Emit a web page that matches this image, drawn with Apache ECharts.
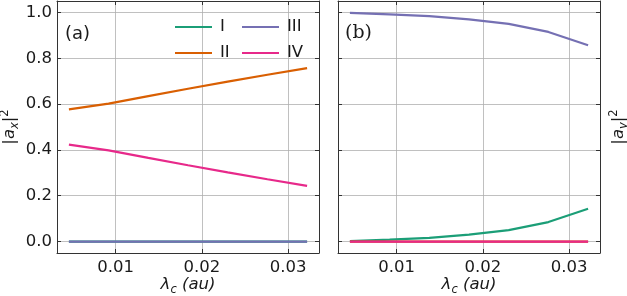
<!DOCTYPE html>
<html lang="en">

<head>
    <meta charset="UTF-8">
    <title>amplitudes</title>
    <script src="https://cdn.jsdelivr.net/npm/echarts@6/dist/echarts.min.js"></script>
</head>

<body style="margin:0;background-color:#ffffff;">
    <div id="main" style="position:absolute;left:0;top:0;width:627px;height:296px"></div>

    <script>
        // lambda_c values (au)
        var lam = [0.0046, 0.0092, 0.0138, 0.0184, 0.0230, 0.0276, 0.0322];

        // panel (a): |a_x|^2
        var axI = [0, 0, 0, 0, 0, 0, 0];
        var axII = [0.577, 0.602, 0.635, 0.667, 0.698, 0.728, 0.757];
        var axIII = [0, 0, 0, 0, 0, 0, 0];
        var axIV = [0.423, 0.398, 0.365, 0.333, 0.302, 0.272, 0.243];

        // panel (b): |a_y|^2
        var ayI = [0.002, 0.008, 0.016, 0.030, 0.050, 0.085, 0.143];
        var ayII = [0, 0, 0, 0, 0, 0, 0];
        var ayIII = [0.998, 0.992, 0.984, 0.970, 0.950, 0.915, 0.857];
        var ayIV = [0, 0, 0, 0, 0, 0, 0];

        var names = ['I', 'II', 'III', 'IV'];
        var colors = ['#1b9e77', '#d95f02', '#7570b3', '#e7298a'];
        var xTicks = [0.01, 0.02, 0.03];
        var yTicks = [0, 0.2, 0.4, 0.6, 0.8, 1.0];

        var font = 'DejaVu Sans';
        var frame = '#333333';

        function pairs(ys) {
            return lam.map(function(x, i) { return [x, ys[i]]; });
        }

        function xAxis(grid, pos, showLabel, name) {
            return {
                type: 'value', gridIndex: grid, position: pos,
                min: 0.00322, max: 0.03358,
                name: name || '', nameLocation: 'middle', nameGap: 21, nameMoveOverlap: false,
                nameTextStyle: {
                    rich: {
                        m: { fontFamily: font, fontStyle: 'italic', fontSize: 16.5, lineHeight: 22, color: '#1a1a1a' },
                        s: { fontFamily: font, fontStyle: 'italic', fontSize: 11.5, lineHeight: 12, verticalAlign: 'bottom', color: '#1a1a1a' }
                    }
                },
                axisLine: { show: true, onZero: false, lineStyle: { color: frame, width: 1 } },
                axisTick: { show: true, inside: true, length: 4, customValues: xTicks, lineStyle: { color: frame } },
                axisLabel: {
                    show: showLabel, customValues: xTicks, margin: 6,
                    fontFamily: font, fontSize: 16.5, color: '#1a1a1a',
                    formatter: function(v) { return v.toFixed(2); }
                },
                splitLine: { show: pos === 'bottom', lineStyle: { color: '#b0b0b0', width: 0.8 } }
            };
        }

        function yAxis(grid, pos, showLabel, name, gap) {
            return {
                type: 'value', gridIndex: grid, position: pos,
                min: -0.05, max: 1.05,
                name: name || '', nameLocation: 'middle', nameRotate: 90, nameGap: gap || 0, nameMoveOverlap: false,
                nameTextStyle: {
                    rich: {
                        m: { fontFamily: font, fontSize: 16.5, lineHeight: 22, color: '#1a1a1a' },
                        i: { fontFamily: font, fontStyle: 'italic', fontSize: 16.5, lineHeight: 22, color: '#1a1a1a' },
                        s: { fontFamily: font, fontStyle: 'italic', fontSize: 11.5, lineHeight: 12, verticalAlign: 'bottom', color: '#1a1a1a' },
                        p: { fontFamily: font, fontSize: 11.5, lineHeight: 12, verticalAlign: 'top', color: '#1a1a1a' }
                    }
                },
                axisLine: { show: true, onZero: false, lineStyle: { color: frame, width: 1 } },
                axisTick: { show: true, inside: true, length: 4, customValues: yTicks, lineStyle: { color: frame } },
                axisLabel: {
                    show: showLabel, customValues: yTicks, margin: 5,
                    fontFamily: font, fontSize: 16.5, color: '#1a1a1a',
                    formatter: function(v) { return v.toFixed(1); }
                },
                splitLine: { show: pos === 'left', lineStyle: { color: '#b0b0b0', width: 0.8 } }
            };
        }

        var xName = '{m|λ}{s|c}{m| (au)}';

        var series = [];
        [[axI, axII, axIII, axIV], [ayI, ayII, ayIII, ayIV]].forEach(function(set, g) {
            set.forEach(function(ys, k) {
                series.push({
                    name: names[k], type: 'line',
                    xAxisIndex: g * 2, yAxisIndex: g * 2,
                    data: pairs(ys),
                    showSymbol: false, symbol: 'none',
                    lineStyle: { color: colors[k], width: 2.2 },
                    itemStyle: { color: colors[k] },
                    z: 3 + k
                });
            });
        });

        function legend(left, data) {
            return {
                left: left, top: 13, orient: 'vertical',
                data: data, icon: 'rect', itemWidth: 37, itemHeight: 2, itemGap: 8,
                textStyle: { fontFamily: font, fontSize: 16.5, lineHeight: 18, color: '#1a1a1a', padding: [0, 0, 0, 3] }
            };
        }

        var chart = echarts.init(document.getElementById('main'));
        chart.setOption({
            animation: false,
            grid: [
                { left: 57, right: 308, top: 1, bottom: 43, outerBoundsMode: 'none' },
                { left: 338, right: 27, top: 1, bottom: 43, outerBoundsMode: 'none' }
            ],
            legend: [legend(170, ['I', 'II']), legend(237, ['III', 'IV'])],
            xAxis: [
                xAxis(0, 'bottom', true, xName), xAxis(0, 'top', false),
                xAxis(1, 'bottom', true, xName), xAxis(1, 'top', false)
            ],
            yAxis: [
                yAxis(0, 'left', true, '{m||}{i|a}{s|x}{m||}{p|2}', 36), yAxis(0, 'right', false),
                yAxis(1, 'left', false), yAxis(1, 'right', false, '{m||}{i|a}{s|y}{m||}{p|2}', 8)
            ],
            graphic: [
                { type: 'text', left: 65, top: 25, style: { text: '(a)', fontFamily: font, fontSize: 18, fill: '#1a1a1a' } },
                { type: 'text', left: 345, top: 24, style: { text: '(b)', fontFamily: 'DejaVu Serif', fontSize: 19, fill: '#1a1a1a' } }
            ],
            series: series
        });
    </script>
</body>

</html>
